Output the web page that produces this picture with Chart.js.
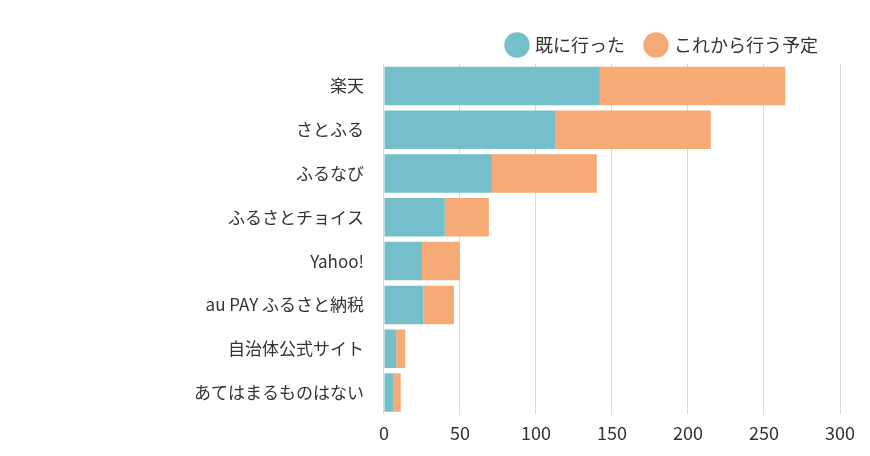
<!DOCTYPE html>
<html><head><meta charset="utf-8">
<script src="https://cdn.jsdelivr.net/npm/chart.js@4"></script>
<style>body{margin:0;background:#fff}#wrap{width:870px;height:456px}</style>
</head><body><div id="wrap"><canvas id="c"></canvas></div>
<script>
var categories = ['楽天', 'さとふる', 'ふるなび', 'ふるさとチョイス', 'Yahoo!', 'au PAY ふるさと納税', '自治体公式サイト', 'あてはまるものはない'];
var visited = [142, 113, 71, 40, 25, 26, 8, 6];
var planned = [122, 102, 69, 29, 25, 20, 6, 5];
var tickValues = [0, 50, 100, 150, 200, 250, 300];

Chart.defaults.font.family = '"Noto Sans CJK JP", "Noto Sans", sans-serif';
Chart.defaults.color = '#333';
new Chart(document.getElementById('c'), {
  type: 'bar',
  data: {
    labels: categories,
    datasets: [
      { label: '既に行った', data: visited, backgroundColor: '#74bfc9' },
      { label: 'これから行う予定', data: planned, backgroundColor: '#f6ab76' }
    ]
  },
  options: {
    indexAxis: 'y',
    responsive: true,
    maintainAspectRatio: false,
    animation: false,
    layout: { padding: { left: 182, right: 30, top: 14, bottom: 4 } },
    datasets: { bar: { categoryPercentage: 0.88, barPercentage: 1 } },
    plugins: {
      legend: {
        align: 'end',
        labels: { usePointStyle: true, pointStyle: 'circle', boxWidth: 18, boxHeight: 18, padding: 22, font: { size: 18 } }
      },
      tooltip: { enabled: false }
    },
    scales: {
      x: {
        stacked: true, min: 0, max: 300,
        afterBuildTicks: function (a) { a.ticks = tickValues.map(function (v) { return { value: v }; }); },
        grid: { color: '#d9d9d9', drawTicks: false },
        border: { display: false },
        ticks: { font: { size: 18 }, padding: 8 }
      },
      y: {
        stacked: true,
        grid: { display: false },
        border: { display: false },
        ticks: { font: { size: 17 }, padding: 12 }
      }
    }
  }
});
</script></body></html>
